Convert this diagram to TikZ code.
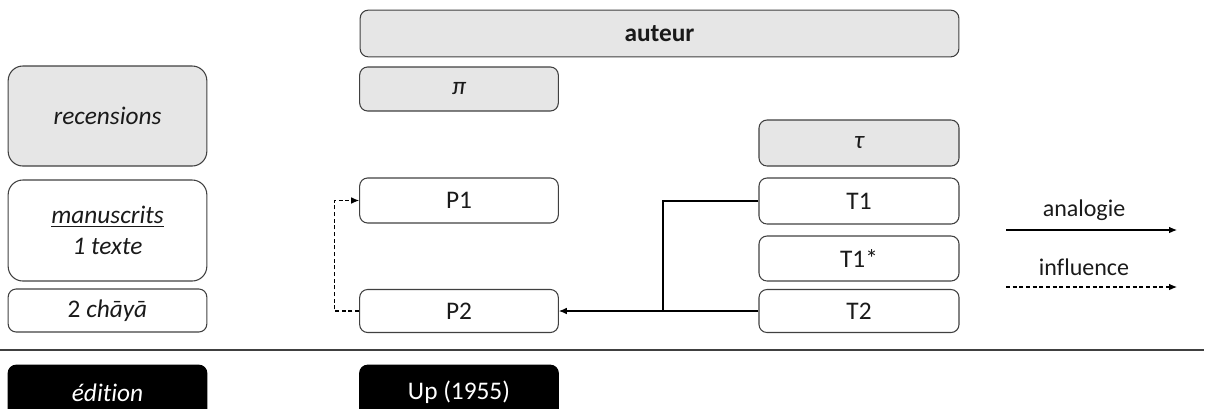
\documentclass[tikz,border=0pt]{standalone}
\usepackage{fontspec}
\setmainfont[Ligatures=NoCommon]{Carlito}
\usetikzlibrary{arrows.meta}

\definecolor{boxgray}{HTML}{E6E6E6}
\definecolor{edgegray}{HTML}{404040}
\definecolor{inkgray}{HTML}{1A1A1A}

\tikzset{
  stemma/.style={draw=edgegray, line width=0.8pt, rounded corners=6pt,
    minimum width=149pt, minimum height=33pt, inner sep=0pt, text=inkgray,
    font=\fontsize{19}{23}\selectfont},
  greybox/.style={stemma, fill=boxgray},
  blackbox/.style={stemma, fill=black, draw=black, text=white},
  link/.style={line width=0.8pt, -{Latex[length=6pt,width=5pt]}},
  legend/.style={text=inkgray, font=\fontsize{18}{20}\selectfont},
}

\begin{document}
\begin{tikzpicture}[x=0.75pt,y=-0.75pt]
\clip (0,0) rectangle (1206,408);

% left column
\node [greybox, minimum height=75pt, rounded corners=11pt] (recensions) at (107.5,116) {\itshape recensions};
\node [stemma, minimum height=75.75pt, rounded corners=11pt, align=center] (manuscrits) at (107.5,230.5)
  {\itshape\underline{manuscrits}\\ \itshape 1 texte};
\node [stemma, minimum height=32.25pt] (chaya) at (107.5,310.5) {2 \textit{chāyā}};

% top
\node [greybox, minimum width=449pt, minimum height=35pt] (auteur) at (659.5,33.5) {\bfseries auteur};
\node [greybox] (pi) at (459,89) {\itshape π};
\node [greybox, minimum width=150pt, minimum height=34.5pt] (tau) at (859,143) {\itshape τ};

% witnesses
\node [stemma, minimum height=33.75pt] (P1) at (459,200.5) {P1};
\node [stemma, minimum height=32.25pt] (P2) at (459,311) {P2};
\node [stemma, minimum width=150pt, minimum height=34.5pt] (T1) at (859,201) {T1};
\node [stemma, minimum width=150pt, minimum height=33.75pt] (T1s) at (859,258.5) {T1*};
\node [stemma, minimum width=150pt, minimum height=32.25pt] (T2) at (859,311) {T2};

% links
\coordinate (join) at (663,311);
\draw [line width=0.8pt] (T1.west) -| (join);
\draw [link] (T2.west) -- (P2.east);
\draw [link, dash pattern=on 3pt off 2pt] (P2.west) -- ++(-25,0) |- (P1.west);

% legend
\node [legend] (analogie) at (1084,210) {analogie};
\coordinate (a1) at (1006,230);
\coordinate (a2) at (1177,230);
\draw [link] (a1) -- (a2);
\node [legend] (influence) at (1084,267) {influence};
\coordinate (i1) at (1006,287);
\coordinate (i2) at (1177,287);
\draw [link, dash pattern=on 3pt off 2pt] (i1) -- (i2);

% separation
\coordinate (s1) at (0,350);
\coordinate (s2) at (1204,350);
\draw [edgegray, line width=0.8pt] (s1) -- (s2);

% edition
\node [blackbox, minimum height=41pt] (edition) at (107.5,392.5) {\itshape édition};
\node [blackbox, minimum height=41pt] (Up) at (459,392.5) {Up (1955)};

\end{tikzpicture}
\end{document}
